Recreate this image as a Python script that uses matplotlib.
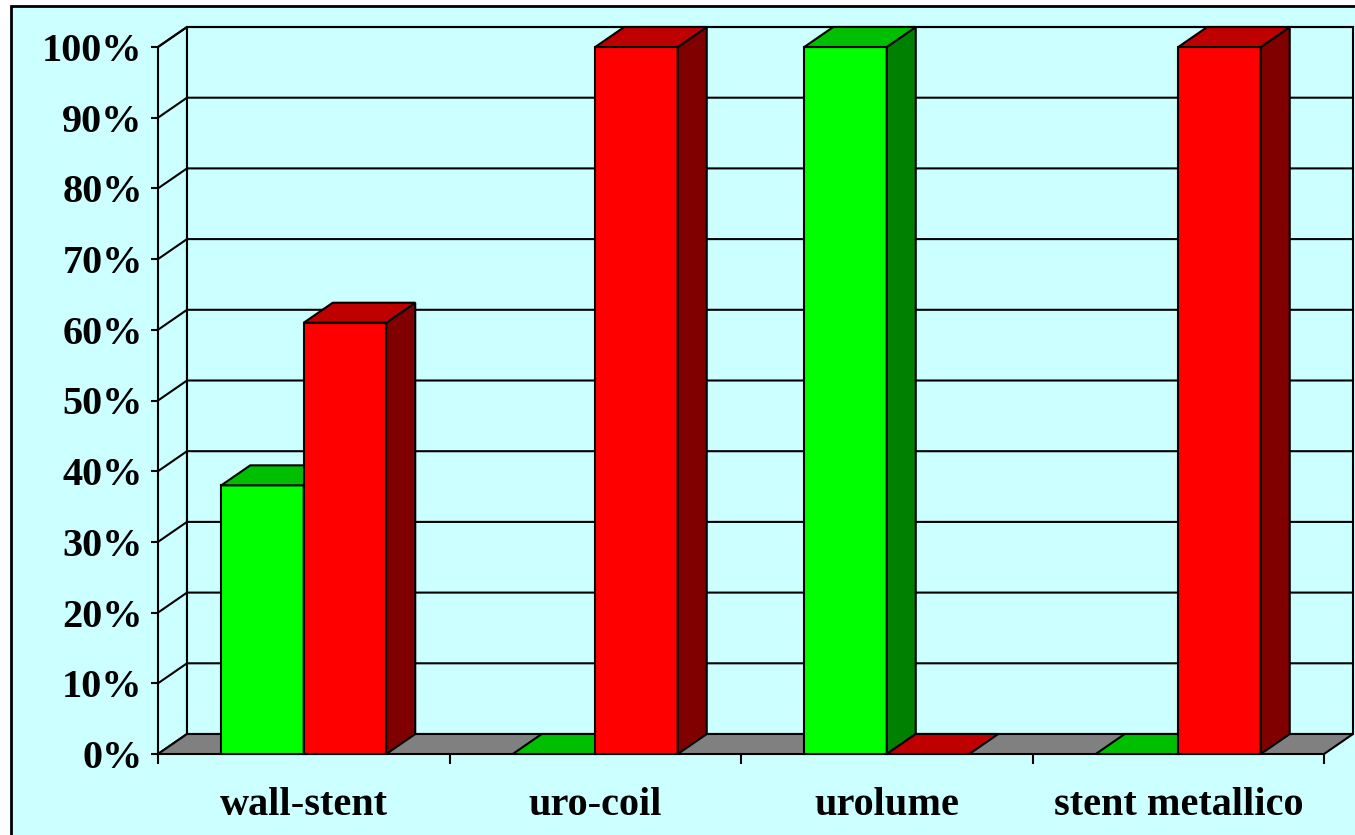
import numpy as np
import matplotlib.pyplot as plt
from matplotlib.patches import Polygon, Rectangle

# data
categories = ['wall-stent', 'uro-coil', 'urolume', 'stent metallico']
green_vals = [38, 0, 100, 0]
red_vals = [61, 100, 0, 100]
ytick_vals = list(range(0, 101, 10))
ytick_labels = ['%d%%' % v for v in ytick_vals]

BG = '#CCFFFF'
GREEN = ('#00FF00', '#00BF00', '#008000')   # front, top, side
RED = ('#FF0000', '#BF0000', '#800000')
FONT = 'Liberation Serif'

W, H = 1355, 835
fig = plt.figure(figsize=(W / 100, H / 100), dpi=100, facecolor='white')

# outer frame of the chart area (background axes)
bg = fig.add_axes([0, 0, 1, 1])
bg.set_xlim(0, W)
bg.set_ylim(H, 0)
bg.axis('off')
bg.add_patch(Rectangle((11, 6), W, H, facecolor=BG, edgecolor='black', linewidth=2.0))

ax = fig.add_axes([158 / W, (H - 754) / H, (1324 - 158) / W, (754 - 47) / H])
ax.set_xlim(0, len(categories))
ax.set_ylim(0, 100)
ax.patch.set_alpha(0)
for s in ax.spines.values():
    s.set_visible(False)

# depth of the 3d box in data units
DX = 29 / 291.5
DY = 20 / 7.07
n = len(categories)
lw = 1.5

def poly(pts, fc, z):
    ax.add_patch(Polygon(pts, closed=True, facecolor=fc, edgecolor='black',
                         linewidth=lw, clip_on=False, zorder=z, joinstyle='miter'))

# walls
poly([(0, 0), (DX, DY), (DX, 100 + DY), (0, 100)], BG, 1)
poly([(DX, DY), (n + DX, DY), (n + DX, 100 + DY), (DX, 100 + DY)], BG, 1)
for v in ytick_vals[1:]:
    ax.plot([0, DX, n + DX], [v, v + DY, v + DY], color='black', lw=lw,
            clip_on=False, zorder=2)
# floor
poly([(0, 0), (n, 0), (n + DX, DY), (DX, DY)], '#808080', 3)

# bars
bw = 0.283
z = 4
for i in range(n):
    c = i + 0.5
    for x0, val, cols in [(c - bw, green_vals[i], GREEN), (c, red_vals[i], RED)]:
        x1 = x0 + bw
        if val > 0:
            poly([(x0, 0), (x1, 0), (x1, val), (x0, val)], cols[0], z)
            poly([(x1, 0), (x1 + DX, DY), (x1 + DX, val + DY), (x1, val)], cols[2], z)
        poly([(x0, val), (x1, val), (x1 + DX, val + DY), (x0 + DX, val + DY)], cols[1], z)
        z += 1

# axes ticks and labels
ax.set_yticks(ytick_vals)
ax.set_yticklabels(ytick_labels)
ax.tick_params(axis='y', direction='out', length=5, width=lw, pad=6)
ax.set_xticks(range(n + 1))
ax.set_xticklabels([])
ax.tick_params(axis='x', which='major', direction='out', length=7.5, width=lw)
ax.set_xticks(np.arange(n) + 0.5, minor=True)
ax.set_xticklabels(categories, minor=True)
ax.tick_params(axis='x', which='minor', length=0, pad=24)
for t in ax.get_yticklabels() + ax.get_xticklabels(minor=True):
    t.set_fontfamily(FONT)
    t.set_fontweight('bold')
    t.set_fontsize(29)

fig.savefig('out.png', dpi=100, facecolor='white')
